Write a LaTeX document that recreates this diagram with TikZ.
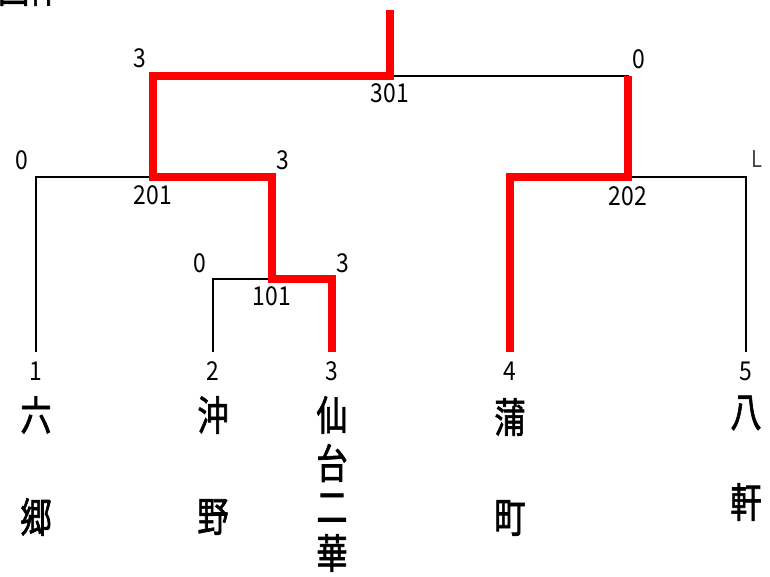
\documentclass[tikz,border=0pt]{standalone}
\usepackage{fontspec}
\newfontfamily\jpname[FakeStretch=0.76,FakeBold=1.6]{Noto Sans CJK JP}
\newfontfamily\jpnum[FakeStretch=0.88]{Noto Sans CJK JP}
\tikzset{
	thinline/.style={line width=2.6pt,black},
	winline/.style={line width=8.5pt,red,line join=miter},
	score/.style={inner sep=0pt,font=\jpnum\fontsize{26}{26}\selectfont},
	team/.style={inner sep=0pt,font=\jpname\fontsize{41}{41}\selectfont}
}
\begin{document}
\begin{tikzpicture}[x=1pt,y=-1pt]
			\useasboundingbox (0,0) rectangle (770,577);

			% leaves and matches
			\coordinate (l1) at (36,352);
			\coordinate (l2) at (213,352);
			\coordinate (l3) at (332,352);
			\coordinate (l4) at (510,352);
			\coordinate (l5) at (746,352);
			\coordinate (m101) at (272,279);
			\coordinate (m201) at (153,177);
			\coordinate (m202) at (628,177);
			\coordinate (m301) at (390,76);
			\coordinate (top) at (390,10);

			\draw[thinline] (m101) -| (l2);
			\draw[thinline] (m101) -| (l3);
			\draw[thinline] (m201) -| (l1);
			\draw[thinline] (m201) -| (m101);
			\draw[thinline] (m202) -| (l4);
			\draw[thinline] (m202) -| (l5);
			\draw[thinline] (m301) -| (m201);
			\draw[thinline] (m301) -| (m202);

			\draw[winline] (l3) |- (m101) |- (m201) |- (m301) -- (top);
			\draw[winline] (l4) |- (m202) -- (m202 |- m301);

			% scores
			\node[score] (s301a) at (140,58) {3};
			\node[score] (s301b) at (639,59) {0};
			\node[score] (n301) at (390,93) {301};
			\node[score] (s201a) at (22,160) {0};
			\node[score] (s201b) at (283,160) {3};
			\node[score] (n201) at (153,195) {201};
			\node[score,text=black!75] (s202b) at (757,159) {\fontsize{23}{23}\selectfont L};
			\node[score] (n202) at (628,196) {202};
			\node[score] (s101a) at (200,263) {0};
			\node[score] (s101b) at (343,263) {3};
			\node[score] (n101) at (272,296) {101};

			% teams
			\node[score] (t1) at (36,371) {1};
			\node[score] (t2) at (213,371) {2};
			\node[score] (t3) at (332,371) {3};
			\node[score] (t4) at (510,371) {4};
			\node[score] (t5) at (746,371) {5};
			\node[team] (t1a) at (36,415) {六};
			\node[team] (t1b) at (36,517) {郷};
			\node[team] (t2a) at (213,415) {沖};
			\node[team] (t2b) at (213,517) {野};
			\node[team] (t3a) at (332,415) {仙};
			\node[team] (t3b) at (332,463) {台};
			\node[team] (t3c) at (332,508) {二};
			\node[team] (t3d) at (332,553) {華};
			\node[team] (t4a) at (510,417) {蒲};
			\node[team] (t4b) at (510,518) {町};
			\node[team] (t5a) at (746,413) {八};
			\node[team] (t5b) at (746,502) {軒};

			\node[team,anchor=south west] (title) at (-2,6) {団体};
		\end{tikzpicture}
\end{document}
